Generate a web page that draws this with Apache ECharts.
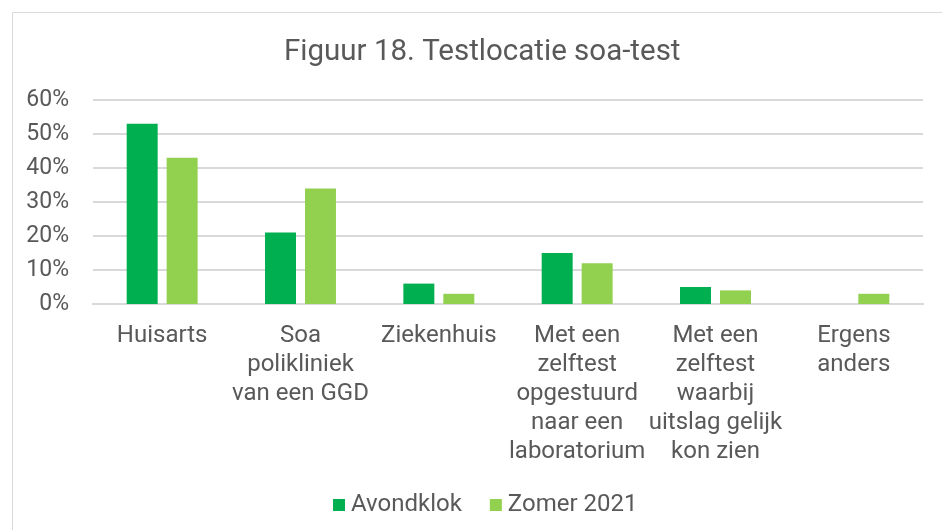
<!DOCTYPE html>
<html><head><meta charset="utf-8">
<script src="https://cdn.jsdelivr.net/npm/echarts@6/dist/echarts.min.js"></script>
<style>html,body{margin:0;padding:0;background:#fff}#c{width:942px;height:530px}</style>
</head><body><div id="c"></div>
<script>
const categories = ["Huisarts", "Soa\npolikliniek\nvan een GGD", "Ziekenhuis", "Met een\nzelftest\nopgestuurd\nnaar een\nlaboratorium", "Met een\nzelftest\nwaarbij\nuitslag gelijk\nkon zien", "Ergens\nanders"];
const avondklok = [53, 21, 6, 15, 5, 0];
const zomer2021 = [43, 34, 3, 12, 4, 3];
const seriesNames = ["Avondklok", "Zomer 2021"];
const titleText = "Figuur 18. Testlocatie soa-test";

const chart = echarts.init(document.getElementById('c'), null, {renderer: 'canvas'});
const font = 'Roboto, "Noto Sans", sans-serif';
chart.setOption({
  animation: false,
  textStyle: {fontFamily: font},
  graphic: [{type: 'rect', shape: {x: 12.5, y: 12.5, width: 940, height: 530}, style: {fill: 'none', stroke: '#d9d9d9', lineWidth: 1}, silent: true}],
  title: {text: titleText, left: 279, top: 33, textStyle: {fontFamily: font, fontSize: 29.5, fontWeight: 'normal', color: '#595959'}},
  legend: {data: seriesNames, top: 488, left: 328, itemWidth: 12, itemHeight: 12, itemGap: 28, icon: 'rect',
    textStyle: {fontFamily: font, fontSize: 24, color: '#595959', padding: [0, 0, 0, 1]}},
  grid: {left: 93, right: 19, top: 100, bottom: 226, containLabel: false},
  xAxis: {type: 'category', data: categories, axisTick: {show: false},
    axisLine: {lineStyle: {color: '#d9d9d9', width: 2}},
    axisLabel: {interval: 0, margin: 17, fontFamily: font, fontSize: 24, color: '#595959', lineHeight: 29}},
  yAxis: {type: 'value', min: 0, max: 60, interval: 10,
    axisLabel: {formatter: '{value}%', fontFamily: font, fontSize: 23, color: '#595959', margin: 24},
    splitLine: {lineStyle: {color: '#d9d9d9', width: 2}}, axisLine: {show: false}, axisTick: {show: false}},
  series: [
    {name: seriesNames[0], type: 'bar', data: avondklok, itemStyle: {color: '#00B050'}, barWidth: '22.4%', barGap: '29%'},
    {name: seriesNames[1], type: 'bar', data: zomer2021, itemStyle: {color: '#92D050'}, barWidth: '22.4%'}
  ]
});
</script></body></html>
